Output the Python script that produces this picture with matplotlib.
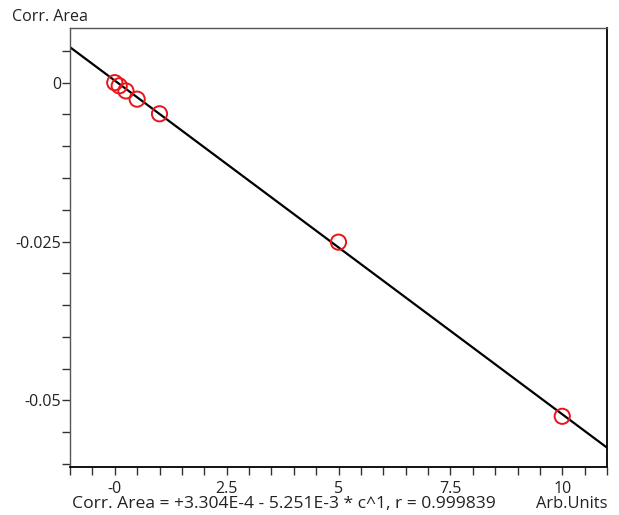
import matplotlib
matplotlib.use("Agg")
import matplotlib.pyplot as plt
import numpy as np
from matplotlib.ticker import MultipleLocator, FixedLocator, FixedFormatter

plt.rcParams['font.family'] = ['Open Sans', 'DejaVu Sans']

# data
amounts = [0.0, 0.1, 0.25, 0.5, 1.0, 5.0, 10.0]
areas = [0.0, -0.0005, -0.0013, -0.0026, -0.0049, -0.0251, -0.0525]
intercept = 3.304e-4
slope = -5.251e-3
x_ticks = [0, 2.5, 5, 7.5, 10]
x_tick_labels = ["-0", "2.5", "5", "7.5", "10"]
y_ticks = [0, -0.025, -0.05]
y_tick_labels = ["0", "-0.025", "-0.05"]
formula = "Corr. Area = +3.304E-4 - 5.251E-3 * c^1, r = 0.999839"

fig = plt.figure(figsize=(6.19, 5.15), dpi=100)
ax = fig.add_axes([70/619, 1-466.5/515, (607-70)/619, (466.5-28)/515])

xlim = (-1, 11)
fx = np.linspace(xlim[0], xlim[1], 200)
ax.plot(fx, intercept + slope*fx, color='black', lw=1.6, zorder=2)
ax.scatter(amounts, areas, s=120, facecolors='none', edgecolors='#e8141b', linewidths=1.4, zorder=3)

ax.set_xlim(*xlim)
ax.set_ylim(-0.0604, 0.0086)

ax.xaxis.set_major_locator(FixedLocator(x_ticks))
ax.xaxis.set_major_formatter(FixedFormatter(x_tick_labels))
ax.xaxis.set_minor_locator(MultipleLocator(0.5))
ax.yaxis.set_major_locator(FixedLocator(y_ticks))
ax.yaxis.set_major_formatter(FixedFormatter(y_tick_labels))
ax.yaxis.set_minor_locator(MultipleLocator(0.005))

for sp in ['left', 'top']:
    ax.spines[sp].set_color('#555555')
    ax.spines[sp].set_linewidth(1.0)
for sp in ['bottom', 'right']:
    ax.spines[sp].set_color('black')
    ax.spines[sp].set_linewidth(1.3)

ax.tick_params(axis='both', which='both', direction='out', length=5.5, width=1.0,
               colors='#333333', labelcolor='#222222', labelsize=11.5)
ax.tick_params(axis='y', which='both', pad=1)
ax.tick_params(axis='x', which='both', pad=5)

fig.text(12/619, 1-17/515, "Corr. Area", ha='left', va='center', fontsize=11.5, color='#222222')
fig.text(72/619, 1-504/515, formula, ha='left', va='center', fontsize=12.6, color='#222222')
fig.text(607/619, 1-504/515, "Arb.Units", ha='right', va='center', fontsize=11.8, color='#222222')

fig.savefig("out.png", dpi=100)
